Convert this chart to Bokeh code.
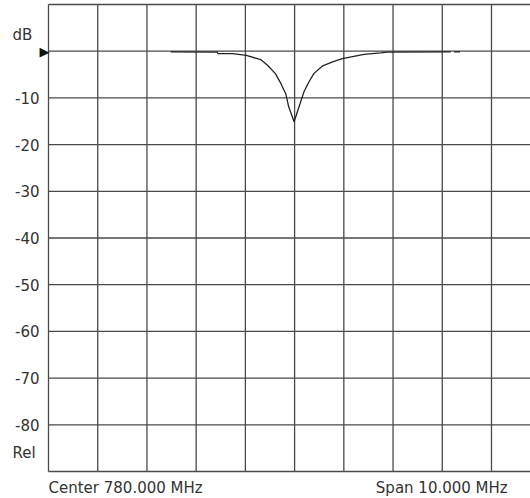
import math
from bokeh.plotting import figure
from bokeh.models import Range1d
from bokeh.embed import file_html
from bokeh.resources import INLINE

# ---- data ----
freq_mhz = [777.48, 778.43, 778.44, 778.74, 779.02, 779.31, 779.45, 779.61, 779.72,
            779.82, 779.88, 779.99, 780.09, 780.19, 780.29, 780.39, 780.56, 780.77,
            780.97, 781.41, 781.75, 781.88, 783.17, math.nan, 783.24, 783.36]
level_db = [-0.15, -0.2, -0.5, -0.5, -0.9, -1.8, -3.0, -4.8, -6.9,
            -9.1, -11.9, -15.1, -11.9, -8.7, -6.6, -4.8, -3.2, -2.3,
            -1.6, -0.7, -0.35, -0.2, -0.15, math.nan, -0.15, -0.15]
y_tick_values = [-80, -70, -60, -50, -40, -30, -20, -10]
y_tick_labels = ["-80", "-70", "-60", "-50", "-40", "-30", "-20", "-10"]
grid_y = [-90, -80, -70, -60, -50, -40, -30, -20, -10, 0, 10]
grid_x = [775, 776, 777, 778, 779, 780, 781, 782, 783, 784, 785]
unit_label = "dB"
scale_label = "Rel"
center_text = "Center 780.000 MHz"
span_text = "Span 10.000 MHz"
ref_level = 0

# ---- layout (pixels) ----
W, H = 530, 498
left_px, top_px = 48, 4          # position of the grid's left / top edge
px_per_mhz, px_per_db = 49.22, 4.67

x0, x1 = grid_x[0], grid_x[-1]
y0, y1 = grid_y[0], grid_y[-1]
x_start = x0 - left_px / px_per_mhz
x_end = x0 + (W - left_px) / px_per_mhz
y_end = y1 + top_px / px_per_db
y_start = y_end - H / px_per_db

p = figure(width=W, height=H, output_backend="svg", toolbar_location=None,
           x_range=Range1d(x_start, x_end), y_range=Range1d(y_start, y_end),
           x_axis_location=None, y_axis_location=None, tools="",
           min_border=0, min_border_left=0, min_border_right=0,
           min_border_top=0, min_border_bottom=0)
p.outline_line_color = None
p.grid.visible = False
p.background_fill_color = "white"
p.border_fill_color = "white"

grid_color = "#4a4a4a"
p.segment(x0=grid_x, y0=[y0] * len(grid_x), x1=grid_x, y1=[y1] * len(grid_x),
          line_color=grid_color, line_width=1.3)
p.segment(x0=[x0] * len(grid_y), y0=grid_y, x1=[x1] * len(grid_y), y1=grid_y,
          line_color=grid_color, line_width=1.3)

p.line(freq_mhz, level_db, line_color="#222222", line_width=1.3)

txt = dict(text_font={"value": "DejaVu Sans"}, text_font_size={"value": "15px"},
           text_color="#333333")
p.text(x=[x0] * len(y_tick_values), y=y_tick_values, text=y_tick_labels,
       x_offset=-9, text_align="right", text_baseline="middle", **txt)
p.text(x=[x0, x0], y=[y1, y0], text=[unit_label, scale_label], x_offset=-36,
       y_offset=[30, -19], text_align="left", text_baseline="middle", **txt)
p.text(x=[x0], y=[y0], text=[center_text], y_offset=7,
       text_align="left", text_baseline="top", **txt)
p.text(x=[x1], y=[y0], text=[span_text], x_offset=-33, y_offset=7,
       text_align="right", text_baseline="top", **txt)
p.text(x=[x0], y=[ref_level], text=["\u25B6"], x_offset=1,
       text_align="right", text_baseline="middle",
       text_font={"value": "DejaVu Sans"}, text_font_size={"value": "13px"},
       text_color="#111111")

open("out.html", "w").write(file_html(p, INLINE))
